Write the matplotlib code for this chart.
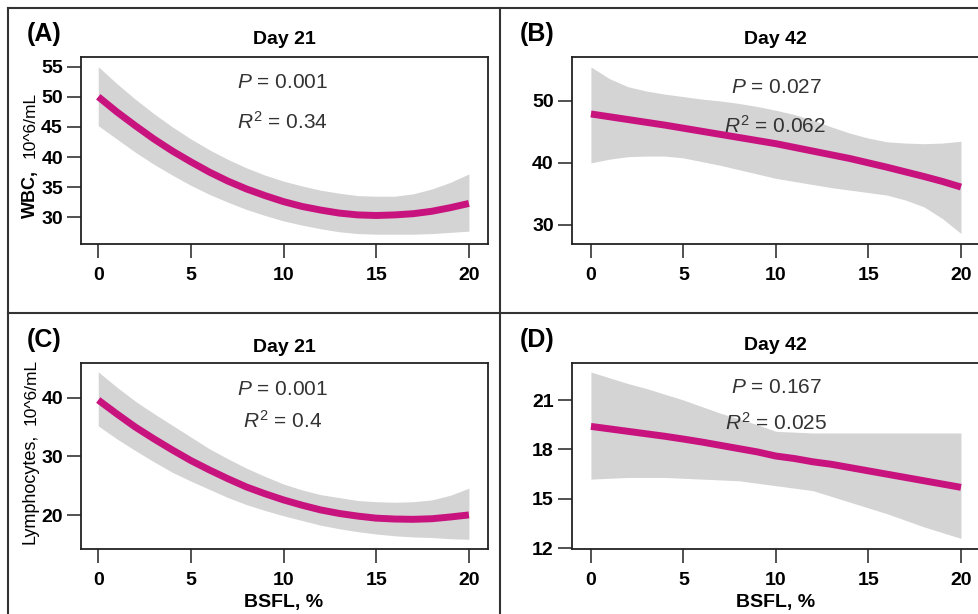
import numpy as np
import matplotlib
matplotlib.use("Agg")
import matplotlib.pyplot as plt
from matplotlib.lines import Line2D

plt.rcParams['font.family'] = ['Liberation Sans', 'DejaVu Sans']
plt.rcParams['mathtext.fontset'] = 'custom'
plt.rcParams['mathtext.rm'] = 'Liberation Sans'
plt.rcParams['mathtext.it'] = 'Liberation Sans:italic'

# BSFL inclusion (%)
bsfl = list(range(21))

wbc21_fit = [50.0, 47.5, 45.2, 43.0, 41.0, 39.2, 37.5, 36.0, 34.7, 33.6, 32.6,
             31.8, 31.2, 30.7, 30.4, 30.3, 30.4, 30.6, 31.0, 31.6, 32.3]
wbc21_lo = [45.2, 43.0, 40.8, 38.8, 37.0, 35.3, 33.8, 32.5, 31.3, 30.3, 29.4,
            28.7, 28.1, 27.6, 27.3, 27.2, 27.2, 27.2, 27.3, 27.5, 27.7]
wbc21_hi = [55.0, 52.2, 49.6, 47.2, 45.0, 43.0, 41.2, 39.6, 38.2, 37.0, 36.0,
            35.2, 34.5, 34.0, 33.6, 33.5, 33.5, 33.9, 34.7, 35.8, 37.2]

wbc42_fit = [47.9, 47.45, 47.0, 46.55, 46.1, 45.6, 45.1, 44.6, 44.1, 43.6, 43.1,
             42.5, 41.9, 41.3, 40.7, 40.0, 39.3, 38.55, 37.8, 37.0, 36.1]
wbc42_lo = [40.0, 40.6, 41.0, 41.1, 41.1, 40.8, 40.2, 39.6, 38.9, 38.2, 37.5,
            37.0, 36.5, 36.0, 35.6, 35.2, 34.8, 34.0, 32.9, 31.0, 28.6]
wbc42_hi = [55.5, 53.6, 52.3, 51.6, 51.1, 50.7, 50.3, 50.0, 49.6, 49.1, 48.5,
            47.8, 46.9, 45.8, 44.8, 44.0, 43.4, 43.2, 43.1, 43.2, 43.5]

lym21_fit = [39.6, 37.25, 35.0, 33.0, 31.1, 29.3, 27.7, 26.2, 24.8, 23.65, 22.6,
             21.7, 20.9, 20.3, 19.85, 19.5, 19.35, 19.3, 19.4, 19.7, 20.05]
lym21_lo = [35.2, 33.0, 31.0, 29.1, 27.3, 25.8, 24.4, 23.0, 21.8, 20.8, 19.9,
            19.1, 18.3, 17.7, 17.2, 16.8, 16.5, 16.3, 16.2, 16.0, 15.9]
lym21_hi = [44.4, 41.8, 39.4, 37.3, 35.3, 33.3, 31.3, 29.6, 28.0, 26.6, 25.3,
            24.3, 23.5, 23.0, 22.5, 22.3, 22.2, 22.3, 22.6, 23.4, 24.6]

lym42_fit = [19.4, 19.25, 19.1, 18.95, 18.8, 18.63, 18.45, 18.25, 18.05, 17.85, 17.6,
             17.45, 17.25, 17.1, 16.9, 16.7, 16.5, 16.3, 16.1, 15.9, 15.7]
lym42_lo = [16.2, 16.25, 16.3, 16.3, 16.3, 16.25, 16.2, 16.15, 16.1, 15.95, 15.8,
            15.65, 15.5, 15.15, 14.8, 14.45, 14.1, 13.7, 13.3, 12.95, 12.6]
lym42_hi = [22.7, 22.35, 22.0, 21.7, 21.35, 21.0, 20.6, 20.2, 19.85, 19.5, 19.1,
            19.05, 19.0, 19.0, 19.0, 19.0, 19.0, 19.0, 19.0, 19.0, 19.0]

panel_tags = ['(A)', '(B)', '(C)', '(D)']
day_titles = ['Day 21', 'Day 42', 'Day 21', 'Day 42']
p_texts = ['0.001', '0.027', '0.001', '0.167']
r2_texts = ['0.34', '0.062', '0.4', '0.025']
yticks_list = [[30, 35, 40, 45, 50, 55], [30, 40, 50], [20, 30, 40], [12, 15, 18, 21]]
xticks = [0, 5, 10, 15, 20]

W, H = 979, 614
fig = plt.figure(figsize=(W / 100, H / 100), dpi=100)


def fx(px):
    return px / W


def fy(py):
    return 1 - py / H


rects = [(81, 57, 407, 187), (571.7, 57, 410, 187),
         (81, 363.3, 407, 186), (571.7, 363.3, 410, 186)]
xlims = [(-0.93, 21.03), (-1.04, 21.12), (-0.93, 21.03), (-1.04, 21.12)]
ylims = [(25.57, 56.6), (26.9, 57.1), (14.2, 45.85), (11.94, 23.23)]
series = [(wbc21_fit, wbc21_lo, wbc21_hi), (wbc42_fit, wbc42_lo, wbc42_hi),
          (lym21_fit, lym21_lo, lym21_hi), (lym42_fit, lym42_lo, lym42_hi)]

tag_pos = [(44, 34), (537.5, 34), (44.5, 340), (537.5, 340)]
title_pos = [(284, 40), (775, 40), (284, 347), (775, 346)]
p_pos = [(282, 88.3), (776, 92.7), (282.5, 395), (776, 393.3)]
r_pos = [(282, 128.3), (775, 132.7), (282.5, 427.3), (776, 430)]

for i in range(4):
    l, t, w, h = rects[i]
    ax = fig.add_axes([fx(l), fy(t + h), w / W, h / H])
    fit, lo, hi = series[i]
    ax.fill_between(bsfl, lo, hi, color='#d4d4d4', lw=0)
    ax.plot(bsfl, fit, color='#C8137F', lw=5, solid_capstyle='butt')
    ax.set_xlim(*xlims[i])
    ax.set_ylim(*ylims[i])
    ax.set_xticks(xticks)
    ax.set_yticks(yticks_list[i])
    ax.tick_params(axis='both', direction='out', length=10, width=1.1,
                   labelsize=14, color='#222222')
    ax.tick_params(axis='x', pad=6.5)
    ax.tick_params(axis='y', pad=3)
    for lab in ax.get_xticklabels() + ax.get_yticklabels():
        lab.set_fontweight('bold')
    for s in ax.spines.values():
        s.set_linewidth(1.3)
        s.set_color('#222222')

    fig.text(fx(tag_pos[i][0]), fy(tag_pos[i][1]), panel_tags[i],
             fontsize=18, fontweight='bold', ha='center', va='center')
    fig.text(fx(title_pos[i][0]), fy(title_pos[i][1]), day_titles[i],
             fontsize=14, fontweight='bold', ha='center', va='center')
    fig.text(fx(p_pos[i][0]), fy(p_pos[i][1]), r'$P$ = ' + p_texts[i],
             fontsize=15, color='#333333', ha='center', va='baseline')
    fig.text(fx(r_pos[i][0]), fy(r_pos[i][1]), r'$R^2$ = ' + r2_texts[i],
             fontsize=15, color='#333333', ha='center', va='baseline')

# y axis labels (main word + units)
fig.text(fx(30), fy(193.5), 'WBC,', rotation=90, fontsize=13,
         fontweight='bold', ha='center', va='center')
fig.text(fx(30.5), fy(124.5), '10^6/mL', rotation=90, fontsize=12.5,
         ha='center', va='center')
fig.text(fx(30.5), fy(488.5), 'Lymphocytes,', rotation=90, fontsize=13,
         ha='center', va='center')
fig.text(fx(31), fy(391.5), '10^6/mL', rotation=90, fontsize=12.5,
         ha='center', va='center')

# x axis labels
fig.text(fx(284), fy(602), 'BSFL, %', fontsize=14, fontweight='bold',
         ha='center', va='center')
fig.text(fx(776), fy(602), 'BSFL, %', fontsize=14, fontweight='bold',
         ha='center', va='center')

# panel frame lines
frame_kw = dict(transform=fig.transFigure, color='#333333', lw=1.5)
fig.add_artist(Line2D([fx(8), fx(8)], [fy(8), 0], **frame_kw))
fig.add_artist(Line2D([fx(8), 1], [fy(8), fy(8)], **frame_kw))
fig.add_artist(Line2D([fx(500), fx(500)], [fy(8), 0], **frame_kw))
fig.add_artist(Line2D([fx(8), 1], [fy(313), fy(313)], **frame_kw))

fig.savefig('out.png', dpi=100)
